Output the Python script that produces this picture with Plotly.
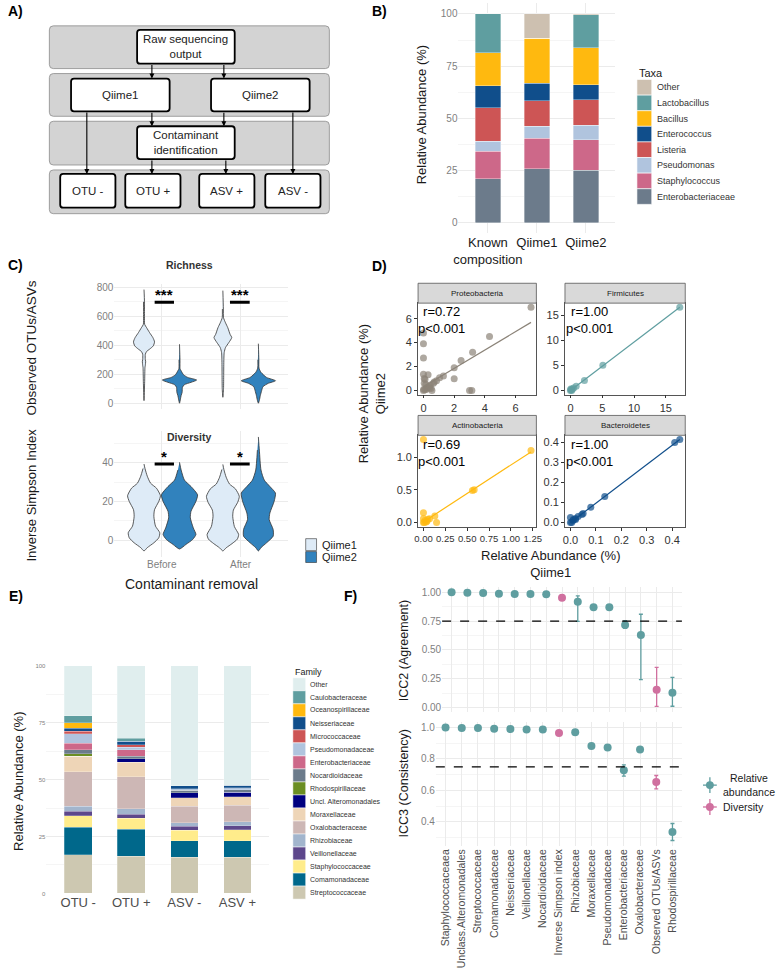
import plotly.graph_objects as go

W, H = 778, 968
FONT = "Liberation Sans, Arial, sans-serif"

# ---------------- data ----------------
# B) mock community, % per taxon (stack order bottom -> top)
b_samples = ["Known<br>composition", "Qiime1", "Qiime2"]
b_taxa = ["Enterobacteriaceae", "Staphylococcus", "Pseudomonas", "Listeria",
          "Enterococcus", "Bacillus", "Lactobacillus", "Other"]
b_known = [21.1, 13.1, 4.8, 16.0, 10.5, 15.8, 18.7, 0.0]
b_qiime1 = [25.8, 14.6, 5.7, 12.2, 8.6, 21.4, 0.0, 11.7]
b_qiime2 = [25.0, 14.6, 7.0, 12.2, 7.3, 17.6, 16.0, 0.3]

# C) violin outlines: value, relative half-width (read from the picture)
c_groups = ["Before", "After"]
rich_q1_before_y = [784, 700, 600, 544, 521, 487, 453, 423, 395, 373, 357, 338, 300, 290, 260, 247, 150, 18]
rich_q1_before_w = [0, 1.5, 1.5, 2, 8, 17, 27, 32, 28, 17, 8, 4, 4, 5, 4, 3, 2, 0]
rich_q2_before_y = [407, 300, 235, 224, 197, 178, 160, 144, 128, 110, 75, 53, 30, 0]
rich_q2_before_w = [0, 1.5, 2, 5, 12, 25, 52, 35, 15, 9, 8, 5, 3, 0]
rich_q1_after_y = [777, 650, 590, 555, 521, 475, 453, 418, 384, 350, 300, 200, 100, 41]
rich_q1_after_w = [0, 1.5, 2, 8, 15, 22, 27, 18, 8, 4, 3, 2.5, 2, 0]
rich_q2_after_y = [411, 300, 242, 213, 178, 155, 137, 114, 87, 53, 20, 0]
rich_q2_after_w = [0, 1.5, 2, 8, 25, 52, 30, 14, 10, 6, 3, 0]

div_q1_before_y = [39.3, 37, 33, 29.4, 26.8, 22.9, 20, 15.7, 12.3, 7.2, 3.8, 1.2, -1.4, -3.9, -5.6]
div_q1_before_w = [0, 3, 10, 20, 38, 50, 45, 32, 30, 35, 48, 45, 30, 10, 0]
div_q2_before_y = [40.2, 36.2, 31, 27.7, 23.4, 20, 14.9, 11.5, 6.3, 2.9, 0.3, -2.2, -4.6]
div_q2_before_w = [0, 5, 15, 35, 55, 50, 35, 33, 42, 50, 40, 20, 0]
div_q1_after_y = [39.1, 36.5, 32.5, 29, 26.5, 22.6, 19.5, 15.5, 12.3, 7, 2.9, 0.5, -1.8, -4, -5.6]
div_q1_after_w = [0, 3, 10, 20, 38, 50, 45, 32, 30, 35, 48, 44, 28, 10, 0]
div_q2_after_y = [53.3, 46.5, 36.2, 31, 27.7, 24.3, 20, 14, 10.6, 5.5, 2, -1.4, -3.9, -5.6]
div_q2_after_w = [0, 3, 8, 18, 35, 52, 48, 35, 33, 45, 45, 25, 8, 0]

rich_sig = ["***", "***"]
div_sig = ["*", "*"]
sig_x0 = [-0.09, -0.135]
sig_x1 = [0.155, 0.115]
rich_sig_y, div_sig_y = 697, 39.3

# D) Qiime1 vs Qiime2 relative abundance per phylum
d_phyla = ["Proteobacteria", "Firmicutes", "Actinobacteria", "Bacteroidetes"]
d_r = [0.72, 1.00, 0.69, 1.00]
proteo_x = [7.0, 4.3, 3.2, 2.45, 2.0, 2.0, 3.0, 3.15, 0.0, 0.0, 0.0, 0.0, 0.05, 0.3, 0.1, 1.3,
            1.05, 0.85, 0.65, 0.45, 0.25, 0.5, 0.55, 0.1, 0.2, 0.0, 0.35, 0.15, 0.05, 0.7, 0.4, 0.02]
proteo_y = [6.95, 4.5, 3.2, 2.5, 1.9, 0.97, 0.0, 0.0, 4.8, 3.9, 2.7, 1.35, 1.0, 1.3, 0.9, 1.2,
            1.05, 0.8, 0.6, 0.45, 0.25, 0.15, 0.0, 0.05, 0.1, 0.0, 0.3, 0.5, 0.6, 0.7, 0.2, 0.1]
firm_x = [17.2, 5.1, 2.2, 0.9, 0.3, 0.1, 0.0, 0.5, 0.2, 0.05]
firm_y = [16.6, 5.0, 2.0, 0.85, 0.3, 0.15, 0.0, 0.5, 0.0, 0.3]
actino_x = [0.0, 1.23, 0.56, 0.58, 0.13, 0.15, 0.0, 0.0, 0.02, 0.05, 0.03, 0.01, 0.04, 0.0, 0.07]
actino_y = [1.27, 1.1, 0.49, 0.5, 0.1, 0.0, 0.15, 0.06, 0.03, 0.05, 0.01, 0.0, 0.02, 0.0, 0.06]
bact_x = [0.43, 0.41, 0.135, 0.08, 0.05, 0.045, 0.03, 0.02, 0.0, 0.01, 0.0, 0.005, 0.012, 0.02]
bact_y = [0.415, 0.40, 0.13, 0.077, 0.045, 0.04, 0.03, 0.02, 0.025, 0.01, 0.0, 0.0, 0.015, 0.015]
d_fit_intercept = [0.3, 0.0, 0.01, 0.0]
d_fit_slope = [0.77, 0.965, 0.87, 0.965]

# E) family composition (%), stack order bottom -> top
e_samples = ["OTU -", "OTU +", "ASV -", "ASV +"]
e_families = ["Streptococcaceae", "Comamonadaceae", "Staphylococcaceae", "Veillonellaceae",
              "Rhizobiaceae", "Oxalobacteraceae", "Moraxellaceae", "Uncl. Alteromonadales",
              "Rhodospirillaceae", "Nocardioidaceae", "Enterobacteriaceae", "Pseudomonadaceae",
              "Micrococcaceae", "Neisseriaceae", "Oceanospirillaceae", "Caulobacteraceae", "Other"]
e_otu_minus = [16.9, 12.2, 5.0, 2.1, 2.2, 15.0, 6.9, 0.0, 1.1, 1.8, 2.9, 4.1, 1.0, 1.4, 2.4, 3.0, 22.0]
e_otu_plus = [16.3, 11.9, 4.8, 1.8, 2.5, 13.9, 6.4, 1.5, 0.0, 1.2, 2.9, 1.0, 1.2, 1.4, 0.0, 1.3, 31.9]
e_asv_minus = [15.9, 7.2, 4.7, 1.7, 1.6, 7.3, 3.7, 2.2, 0.0, 1.0, 0.0, 0.8, 0.0, 1.2, 0.0, 0.0, 52.7]
e_asv_plus = [15.9, 7.2, 4.8, 1.8, 1.7, 7.3, 3.7, 2.1, 0.0, 1.1, 0.0, 0.8, 0.0, 1.2, 0.0, 0.0, 52.4]

# F) ICC per feature
f_features = ["Staphylococcaceaea", "Unclass.Alteromonadales", "Streptococcaceae", "Comamonadaceae",
              "Neisseriaceae", "Veillonellaceae", "Nocardioidaceae", "Inverse Simpson index",
              "Rhizobiaceae", "Moraxellaceae", "Pseudomonadaceae", "Enterobacteriaceae",
              "Oxalobacteraceae", "Observed OTUs/ASVs", "Rhodospirillaceae"]
f_kind = ["abund"] * 7 + ["div"] + ["abund"] * 5 + ["div", "abund"]
icc2 = [1.00, 0.997, 0.994, 0.988, 0.986, 0.986, 0.983, 0.954, 0.919, 0.87, 0.87, 0.717, 0.63, 0.156, 0.13]
icc2_lo = [1.00, 0.995, 0.99, 0.985, 0.982, 0.982, 0.978, 0.945, 0.749, 0.86, 0.86, 0.688, 0.243, 0.01, 0.012]
icc2_hi = [1.00, 0.999, 0.997, 0.992, 0.99, 0.99, 0.988, 0.963, 0.97, 0.88, 0.88, 0.754, 0.81, 0.35, 0.263]
icc3 = [1.00, 0.996, 0.996, 0.992, 0.99, 0.987, 0.987, 0.965, 0.969, 0.883, 0.873, 0.729, 0.86, 0.653, 0.336]
icc3_lo = [1.00, 0.994, 0.994, 0.99, 0.987, 0.984, 0.984, 0.958, 0.962, 0.87, 0.86, 0.691, 0.85, 0.61, 0.282]
icc3_hi = [1.00, 0.998, 0.998, 0.994, 0.993, 0.99, 0.99, 0.972, 0.976, 0.895, 0.885, 0.762, 0.87, 0.695, 0.39]
icc_cutoff = 0.75

# ---------------- styles ----------------
b_colors = {"Enterobacteriaceae": "#6C7B8B", "Staphylococcus": "#CD6889", "Pseudomonas": "#B0C4DE",
            "Listeria": "#CD5555", "Enterococcus": "#104E8B", "Bacillus": "#FFB90F",
            "Lactobacillus": "#5F9EA0", "Other": "#CDC0B0"}
e_colors = {"Other": "#E0EEEE", "Caulobacteraceae": "#5F9EA0", "Oceanospirillaceae": "#FFB90F",
            "Neisseriaceae": "#104E8B", "Micrococcaceae": "#CD5555", "Pseudomonadaceae": "#B0C4DE",
            "Enterobacteriaceae": "#CD6889", "Nocardioidaceae": "#6C7B8B", "Rhodospirillaceae": "#6B8E23",
            "Uncl. Alteromonadales": "#000080", "Moraxellaceae": "#EED5B7", "Oxalobacteraceae": "#CDB7B5",
            "Rhizobiaceae": "#A2B5CD", "Veillonellaceae": "#5D478B", "Staphylococcaceae": "#FFEC8B",
            "Comamonadaceae": "#00688B", "Streptococcaceae": "#CDC8B1"}
q1_col, q2_col = "#DEEBF7", "#3182BD"
d_colors = ["#8B8378", "#5F9EA0", "#FFB90F", "#104E8B"]
f_colors = {"abund": "#5F9EA0", "div": "#D0709F"}
GRID, MINOR = "#EBEBEB", "#F5F5F5"
VIOLIN_SCALE = 1 / 240
DODGE = 0.225


def fx(p):
    return p / W


def fy(p):
    return 1 - p / H


def dx(l, r):
    return [l / W, r / W]


def dy(t, b):
    return [1 - b / H, 1 - t / H]


fig = go.Figure()
ann = []
shapes = []


def note(x, y, text, size=12, color="#1A1A1A", angle=0, bold=False, xanchor="center"):
    ann.append(dict(x=fx(x), y=fy(y), xref="paper", yref="paper", showarrow=False,
                    text=f"<b>{text}</b>" if bold else text, textangle=angle,
                    font=dict(size=size, color=color, family=FONT), xanchor=xanchor, yanchor="middle"))


def rrect(l, t, r, b, rad, fill, lc, lw):
    X, Y = fx, fy
    path = (f"M {X(l + rad)},{Y(t)} L {X(r - rad)},{Y(t)} Q {X(r)},{Y(t)} {X(r)},{Y(t + rad)} "
            f"L {X(r)},{Y(b - rad)} Q {X(r)},{Y(b)} {X(r - rad)},{Y(b)} "
            f"L {X(l + rad)},{Y(b)} Q {X(l)},{Y(b)} {X(l)},{Y(b - rad)} "
            f"L {X(l)},{Y(t + rad)} Q {X(l)},{Y(t)} {X(l + rad)},{Y(t)} Z")
    shapes.append(dict(type="path", xref="paper", yref="paper", path=path, fillcolor=fill,
                       line=dict(color=lc, width=lw), layer="above"))


def prect(l, t, r, b, fill, lc="rgba(0,0,0,0)", lw=0):
    shapes.append(dict(type="rect", xref="paper", yref="paper", x0=fx(l), x1=fx(r), y0=fy(b), y1=fy(t),
                       fillcolor=fill, line=dict(color=lc, width=lw), layer="above"))


# ---------------- A) workflow diagram ----------------
a_bands = [(45, 23, 329, 66), (45, 71, 329, 114), (45, 119, 329, 163), (45, 168, 329, 212)]
a_boxes = [("Raw sequencing<br>output", 134, 27, 233, 61), ("Qiime1", 67, 76, 167, 109),
           ("Qiime2", 209, 76, 309, 109), ("Contaminant<br>identification", 134, 124, 233, 157),
           ("OTU -", 56, 172, 112, 206), ("OTU +", 122, 172, 178, 206),
           ("ASV +", 197, 172, 253, 206), ("ASV -", 264, 172, 320, 206)]
a_arrows = [(149, 61, 76), (222, 61, 76), (83, 109, 172), (149, 109, 124), (222, 109, 124),
            (149, 157, 172), (224, 157, 172), (292, 109, 172)]
for l, t, r, b in a_bands:
    rrect(l, t, r, b, 4, "#D3D3D3", "#8C8C8C", 0.8)
for lab, l, t, r, b in a_boxes:
    rrect(l, t, r, b, 3, "white", "black", 1.8)
    note((l + r) / 2, (t + b) / 2, lab, size=11.5, color="#222")
for x, y0, y1 in a_arrows:
    ann.append(dict(x=fx(x), y=fy(y1), xref="paper", yref="paper", ax=0, ay=-(y1 - y0), text="",
                    showarrow=True, arrowhead=2, arrowsize=0.9, arrowwidth=1.1, arrowcolor="black",
                    standoff=0))

# ---------------- B) stacked bars ----------------
b_cols = [b_known, b_qiime1, b_qiime2]
for i, taxon in enumerate(b_taxa):
    fig.add_trace(go.Bar(x=[0, 1, 2], y=[c[i] for c in b_cols], width=0.52, xaxis="x", yaxis="y",
                         marker=dict(color=b_colors[taxon], line=dict(color="rgba(255,255,255,0.7)", width=0.5)),
                         showlegend=False))
note(422, 113, "Relative Abundance (%)", size=13, angle=-90)
note(641, 70, "Taxa", size=11, xanchor="left")
for i, taxon in enumerate(reversed(b_taxa)):
    t = 77 + i * 15.7
    prect(641, t, 656, t + 15.7, b_colors[taxon], "white", 0.6)
    note(659, t + 7.9, taxon, size=9, color="#333", xanchor="left")

# ---------------- C) violins ----------------
def violin(center, ys, ws, color, xa, ya):
    right = [center + w * VIOLIN_SCALE for w in ws]
    left = [center - w * VIOLIN_SCALE for w in ws]
    xs = right + left[-2:0:-1]
    yy = list(ys) + list(ys)[-2:0:-1]
    fig.add_trace(go.Scatter(x=xs, y=yy, mode="lines", fill="toself", fillcolor=color,
                             line=dict(color="#333333", width=0.8, shape="spline", smoothing=0.6),
                             xaxis=xa, yaxis=ya, showlegend=False, hoverinfo="skip"))


rich = [((rich_q1_before_y, rich_q1_before_w), (rich_q2_before_y, rich_q2_before_w)),
        ((rich_q1_after_y, rich_q1_after_w), (rich_q2_after_y, rich_q2_after_w))]
div = [((div_q1_before_y, div_q1_before_w), (div_q2_before_y, div_q2_before_w)),
       ((div_q1_after_y, div_q1_after_w), (div_q2_after_y, div_q2_after_w))]
for g in range(2):
    violin(g - DODGE, *rich[g][0], q1_col, "x2", "y2")
    violin(g + DODGE, *rich[g][1], q2_col, "x2", "y2")
    violin(g - DODGE, *div[g][0], q1_col, "x3", "y3")
    violin(g + DODGE, *div[g][1], q2_col, "x3", "y3")
    for xa, ya, yv, star in (("x2", "y2", rich_sig_y, rich_sig[g]), ("x3", "y3", div_sig_y, div_sig[g])):
        fig.add_trace(go.Scatter(x=[g + sig_x0[g], g + sig_x1[g]], y=[yv, yv], mode="lines",
                                 line=dict(color="black", width=3), xaxis=xa, yaxis=ya,
                                 showlegend=False, hoverinfo="skip"))
        ann.append(dict(x=g + (sig_x0[g] + sig_x1[g]) / 2, y=yv, xref=xa, yref=ya, text=f"<b>{star}</b>",
                        showarrow=False, xanchor="center", yanchor="bottom", yshift=-3,
                        font=dict(size=15, color="black", family=FONT)))

note(187, 264, "Richness", size=10.5, color="#333", bold=True)
note(187, 437, "Diversity", size=10.5, color="#333", bold=True)
note(27, 347, "Observed OTUs/ASVs", size=13.5, angle=-90)
note(27, 495, "Inverse Simpson Index", size=13, angle=-90)
note(189, 585, "Contaminant removal", size=14)
prect(305, 539, 316, 551, q1_col, "#333", 0.6)
prect(305, 552, 316, 563, q2_col, "#333", 0.6)
note(320, 545, "Qiime1", size=11, xanchor="left")
note(320, 557, "Qiime2", size=11, xanchor="left")

# ---------------- D) scatter facets ----------------
d_xs = [proteo_x, firm_x, actino_x, bact_x]
d_ys = [proteo_y, firm_y, actino_y, bact_y]
d_boxes = [(419, 302, 539, 394), (568, 302, 690, 394), (419, 435, 539, 527), (568, 435, 690, 527)]
for k in range(4):
    xa, ya = f"x{k + 4}", f"y{k + 4}"
    xs, ys = d_xs[k], d_ys[k]
    x0, x1 = min(xs), max(xs)
    fig.add_trace(go.Scatter(x=xs, y=ys, mode="markers", xaxis=xa, yaxis=ya, showlegend=False,
                             marker=dict(size=7, color=d_colors[k], opacity=0.7, line=dict(width=0))))
    fig.add_trace(go.Scatter(x=[x0, x1], y=[d_fit_intercept[k] + d_fit_slope[k] * x0,
                                            d_fit_intercept[k] + d_fit_slope[k] * x1],
                             mode="lines", line=dict(color=d_colors[k], width=1.2), xaxis=xa, yaxis=ya,
                             showlegend=False))
    l, t, r, b = d_boxes[k]
    prect(l, t - 20, r, t, "#D9D9D9", "#555", 0.8)
    note((l + r) / 2, t - 10, d_phyla[k], size=8, color="#1A1A1A")
    ann.append(dict(x=0.2, y=0.81, xref=f"{xa} domain", yref=f"{ya} domain", showarrow=False,
                    xanchor="center", yanchor="middle",
                    text=f"r={d_r[k]:.2f}<br>p&lt;0.001", align="center",
                    font=dict(size=13, color="black", family=FONT)))
note(372, 393, "Relative Abundance (%)<br>Qiime2", size=13, angle=-90)
note(553, 564, "Relative Abundance (%)<br>Qiime1", size=13)

# ---------------- E) family stacked bars ----------------
e_cols = [e_otu_minus, e_otu_plus, e_asv_minus, e_asv_plus]
for i, fam in enumerate(e_families):
    fig.add_trace(go.Bar(x=[0, 1, 2, 3], y=[c[i] for c in e_cols], width=0.52, xaxis="x8", yaxis="y8",
                         marker=dict(color=e_colors[fam], line=dict(color="rgba(255,255,255,0.6)", width=0.4)),
                         showlegend=False))
note(13, 783, "Relative Abundance (%)", size=13, angle=-90)
note(292, 673, "Family", size=9, xanchor="left")
for i, fam in enumerate(reversed(e_families)):
    t = 679 + i * 13.1
    prect(292, t, 305, t + 13.1, e_colors[fam], "white", 0.5)
    note(307, t + 6.6, fam, size=7, color="#333", xanchor="left")

# ---------------- F) ICC ----------------
for xa, ya, val, lo, hi in (("x9", "y9", icc2, icc2_lo, icc2_hi), ("x10", "y10", icc3, icc3_lo, icc3_hi)):
    for kind in ("abund", "div"):
        idx = [i for i, k in enumerate(f_kind) if k == kind]
        fig.add_trace(go.Scatter(
            x=[i + 1 for i in idx], y=[val[i] for i in idx], mode="markers", xaxis=xa, yaxis=ya,
            marker=dict(size=8, color=f_colors[kind]), showlegend=False,
            error_y=dict(type="data", symmetric=False, array=[hi[i] - val[i] for i in idx],
                         arrayminus=[val[i] - lo[i] for i in idx], color=f_colors[kind], thickness=1.3, width=2)))
    shapes.append(dict(type="line", xref=f"{xa} domain", yref=ya, x0=0, x1=1, y0=icc_cutoff, y1=icc_cutoff,
                       line=dict(color="black", width=1.3, dash="dash")))
note(405, 652, "ICC2 (Agreement)", size=12.5, angle=-90)
note(405, 785, "ICC3 (Consistency)", size=12.5, angle=-90)
for kind, yc, lab in (("abund", 787, "Relative<br>abundance"), ("div", 809, "Diversity")):
    c = f_colors[kind]
    shapes.append(dict(type="line", xref="paper", yref="paper", x0=fx(708), x1=fx(722), y0=fy(yc), y1=fy(yc),
                       line=dict(color=c, width=1.3)))
    shapes.append(dict(type="line", xref="paper", yref="paper", x0=fx(715), x1=fx(715), y0=fy(yc - 8), y1=fy(yc + 8),
                       line=dict(color=c, width=1.3)))
    shapes.append(dict(type="circle", xref="paper", yref="paper", x0=fx(711), x1=fx(719), y0=fy(yc + 4),
                       y1=fy(yc - 4), fillcolor=c, line=dict(color=c, width=0)))
    note(726, yc, lab, size=10.5, xanchor="left")

# panel letters
for lab, x, y in (("A)", 11, 8), ("B)", 380, 8), ("C)", 11, 264), ("D)", 380, 265), ("E)", 11, 597), ("F)", 350, 597)):
    note(x, y, lab, size=14, color="black", bold=True)

# ---------------- axes ----------------
tick_gray = dict(size=10, color="#7F7F7F", family=FONT)


def min_ax(**kw):
    base = dict(showgrid=True, gridcolor=GRID, gridwidth=1, zeroline=False, showline=False, ticks="",
                fixedrange=True, tickfont=tick_gray, tickangle=0)
    base.update(kw)
    return base


def box_ax(**kw):
    base = dict(showgrid=False, zeroline=False, showline=True, mirror=True, linecolor="#555", linewidth=0.8,
                ticks="outside", ticklen=3, tickwidth=0.8, tickcolor="#333", tickangle=0,
                tickfont=dict(size=11, color="#333", family=FONT), fixedrange=True)
    base.update(kw)
    return base


layout_axes = dict(
    xaxis=min_ax(domain=dx(460, 619), range=[-0.6, 2.6], tickvals=[0, 1, 2], ticktext=b_samples, anchor="y",
                 tickfont=dict(size=13, color="#1A1A1A", family=FONT)),
    yaxis=min_ax(domain=dy(0.5, 231.5), range=[-5, 105], tickvals=[0, 25, 50, 75, 100], anchor="x",
                 minor=dict(showgrid=True, gridcolor=MINOR, dtick=12.5, tick0=0)),
    xaxis2=min_ax(domain=dx(111, 287), range=[-0.6, 1.6], tickvals=[0, 1], showticklabels=False, anchor="y2"),
    yaxis2=min_ax(domain=dy(282.7, 408.4), range=[-39, 823], tickvals=[0, 200, 400, 600, 800], anchor="x2",
                  minor=dict(showgrid=True, gridcolor=MINOR, dtick=100, tick0=0)),
    xaxis3=min_ax(domain=dx(111, 287), range=[-0.6, 1.6], tickvals=[0, 1], ticktext=c_groups, anchor="y3"),
    yaxis3=min_ax(domain=dy(431, 557), range=[-8.5, 56.2], tickvals=[0, 20, 40], anchor="x3",
                  minor=dict(showgrid=True, gridcolor=MINOR, dtick=10, tick0=0)),
    xaxis4=box_ax(domain=dx(419, 539), range=[-0.35, 7.35], tickvals=[0, 2, 4, 6], anchor="y4"),
    yaxis4=box_ax(domain=dy(302, 394), range=[-0.35, 7.3], tickvals=[0, 2, 4, 6], anchor="x4"),
    xaxis5=box_ax(domain=dx(568, 690), range=[-0.86, 18.06], tickvals=[0, 5, 10, 15], anchor="y5"),
    yaxis5=box_ax(domain=dy(302, 394), range=[-0.83, 17.43], tickvals=[0, 5, 10, 15], anchor="x5"),
    xaxis6=box_ax(domain=dx(419, 539), range=[-0.0615, 1.2915], tickvals=[0, 0.25, 0.5, 0.75, 1.0, 1.25],
                  ticktext=["0.00", "0.25", "0.50", "0.75", "1.00", "1.25"], anchor="y6",
                  tickfont=dict(size=9.5, color="#333", family=FONT)),
    yaxis6=box_ax(domain=dy(435, 527), range=[-0.0635, 1.3335], tickvals=[0, 0.5, 1.0],
                  ticktext=["0.0", "0.5", "1.0"], anchor="x6"),
    xaxis7=box_ax(domain=dx(568, 690), range=[-0.0215, 0.4515], tickvals=[0, 0.1, 0.2, 0.3, 0.4],
                  ticktext=["0.0", "0.1", "0.2", "0.3", "0.4"], anchor="y7"),
    yaxis7=box_ax(domain=dy(435, 527), range=[-0.02075, 0.43575], tickvals=[0, 0.1, 0.2, 0.3, 0.4],
                  ticktext=["0.0", "0.1", "0.2", "0.3", "0.4"], anchor="x7"),
    xaxis8=min_ax(domain=dx(42, 268), range=[-0.6, 3.6], tickvals=[0, 1, 2, 3], ticktext=e_samples, anchor="y8",
                  tickfont=dict(size=13, color="#4D4D4D", family=FONT)),
    yaxis8=min_ax(domain=dy(667, 896), range=[0, 100], tickvals=[0, 25, 50, 75, 100], anchor="x8",
                  tickfont=dict(size=6, color="#7F7F7F", family=FONT),
                  minor=dict(showgrid=True, gridcolor=MINOR, dtick=12.5, tick0=0)),
    xaxis9=min_ax(domain=dx(443.4, 686.6), range=[0.4, 15.6], tickvals=list(range(1, 16)),
                  showticklabels=False, anchor="y9"),
    yaxis9=min_ax(domain=dy(587.3, 713.6), range=[-0.0395, 1.0495], tickvals=[0, 0.25, 0.5, 0.75, 1.0],
                  ticktext=["0.00", "0.25", "0.50", "0.75", "1.00"], anchor="x9",
                  minor=dict(showgrid=True, gridcolor=MINOR, dtick=0.125, tick0=0)),
    xaxis10=min_ax(domain=dx(437, 686.9), range=[0.4, 15.6], tickvals=list(range(1, 16)), ticktext=f_features,
                   tickangle=-90, anchor="y10", tickfont=dict(size=10.5, color="#4D4D4D", family=FONT)),
    yaxis10=min_ax(domain=dy(723.3, 848.4), range=[0.246, 1.036], tickvals=[0.4, 0.6, 0.8, 1.0],
                   ticktext=["0.4", "0.6", "0.8", "1.0"], anchor="x10",
                   minor=dict(showgrid=True, gridcolor=MINOR, dtick=0.1, tick0=0)),
)

fig.update_layout(
    width=W, height=H, margin=dict(l=0, r=0, t=0, b=0),
    paper_bgcolor="white", plot_bgcolor="white",
    font=dict(family=FONT, color="#1A1A1A"),
    barmode="stack", showlegend=False,
    annotations=ann, shapes=shapes,
    **layout_axes,
)

# drop the browser's default 8px body margin so the figure sits at the page origin
fig.write_html("out.html", config={"displayModeBar": False},
               post_script="document.body.style.margin='0';document.body.style.overflow='hidden';")
